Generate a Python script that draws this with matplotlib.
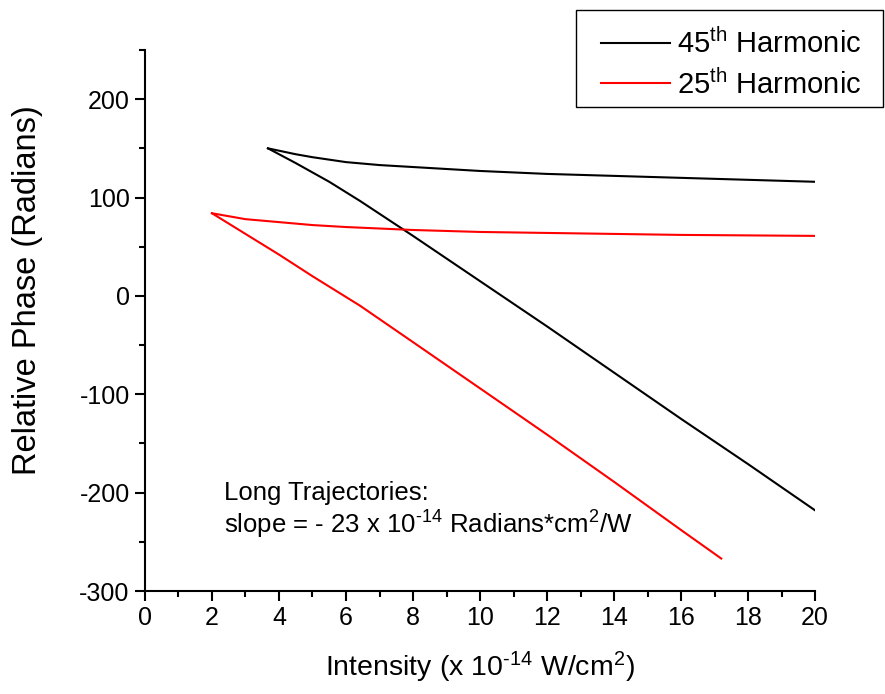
import matplotlib
matplotlib.use("Agg")
import matplotlib.pyplot as plt
from matplotlib.patches import Rectangle
from matplotlib.ticker import MultipleLocator

plt.rcParams["font.family"] = ["Liberation Sans", "DejaVu Sans"]
plt.rcParams["mathtext.default"] = "regular"
plt.rcParams["axes.unicode_minus"] = False

# ── data ─────────────────────────────────────
h45_short_x = [3.67, 4.5, 5, 6, 7, 8, 10, 12, 14, 16, 18, 20]
h45_short_y = [150, 144, 141, 136, 133, 131, 127, 124, 122, 120, 118, 116]
h45_long_x = [3.67, 4.5, 5.5, 6.42, 8, 10, 12, 14, 16, 18, 20]
h45_long_y = [150, 135, 116, 96.5, 61, 15, -31, -78, -125, -171, -218]

h25_short_x = [2.0, 3, 4, 5, 6, 8, 10, 12, 14, 16, 18, 20]
h25_short_y = [84, 78, 75, 72, 70, 67, 65, 64, 63, 62, 61.5, 61]
h25_long_x = [2.0, 3, 4, 5, 6.42, 8, 10, 12, 14, 16, 17.2]
h25_long_y = [84, 63, 42, 20, -10, -47, -94, -141, -189, -238, -267]

XLIM = (0, 20)
YLIM = (-300, 250)

HY = "\u2010"  # plain hyphen in superscripts, like the original

W, H = 885, 694
fig = plt.figure(figsize=(W / 100, H / 100), dpi=100)
ax = fig.add_axes([0.1638, 0.1484, 0.921 - 0.1638, 0.928 - 0.1484])

l45, = ax.plot(h45_short_x, h45_short_y, color="black", lw=1.5)
ax.plot(h45_long_x, h45_long_y, color="black", lw=1.5)
l25, = ax.plot(h25_short_x, h25_short_y, color="red", lw=1.5)
ax.plot(h25_long_x, h25_long_y, color="red", lw=1.5)

ax.set_xlim(*XLIM)
ax.set_ylim(*YLIM)
ax.set_xticks(range(0, 21, 2))
ax.set_yticks([-300, -200, -100, 0, 100, 200])
ax.xaxis.set_minor_locator(MultipleLocator(1))
ax.yaxis.set_minor_locator(MultipleLocator(50))

for side in ("top", "right"):
    ax.spines[side].set_visible(False)
for side in ("left", "bottom"):
    ax.spines[side].set_linewidth(1.5)

ax.tick_params(which="major", direction="out", length=7, width=1.5,
               labelsize=18, pad=4)
ax.tick_params(which="minor", direction="out", length=4, width=1.5)

ax.set_xlabel(f"Intensity (x 10$^{{{HY}14}}$ W/cm$^{{2}}$)", fontsize=20.5,
              labelpad=14)
ax.set_ylabel("Relative Phase (Radians)", fontsize=23.5)
ax.yaxis.set_label_coords(-0.152, 0.556)

ax.text(2.36, -200, "Long Trajectories:", fontsize=18.5, va="center")
ax.text(2.36, -233, f"slope = - 23 x 10$^{{{HY}14}}$ Radians*cm$^{{2}}$/W",
        fontsize=18.5, va="center")

# legend: entries without frame, box drawn separately (wider side padding)
fig.legend([l45, l25], ["45$^{th}$ Harmonic", "25$^{th}$ Harmonic"],
           loc="center left", bbox_to_anchor=(601 / W, 1 - 64 / H),
           fontsize=21, frameon=False, handlelength=2.35, handletextpad=0.25,
           borderpad=0, labelspacing=0.35, borderaxespad=0)
fig.add_artist(Rectangle((576 / W, 1 - 107 / H), 307 / W, 97 / H,
                         transform=fig.transFigure, fill=False,
                         lw=1.0, ec="black"))

fig.savefig("out.png", dpi=100)
